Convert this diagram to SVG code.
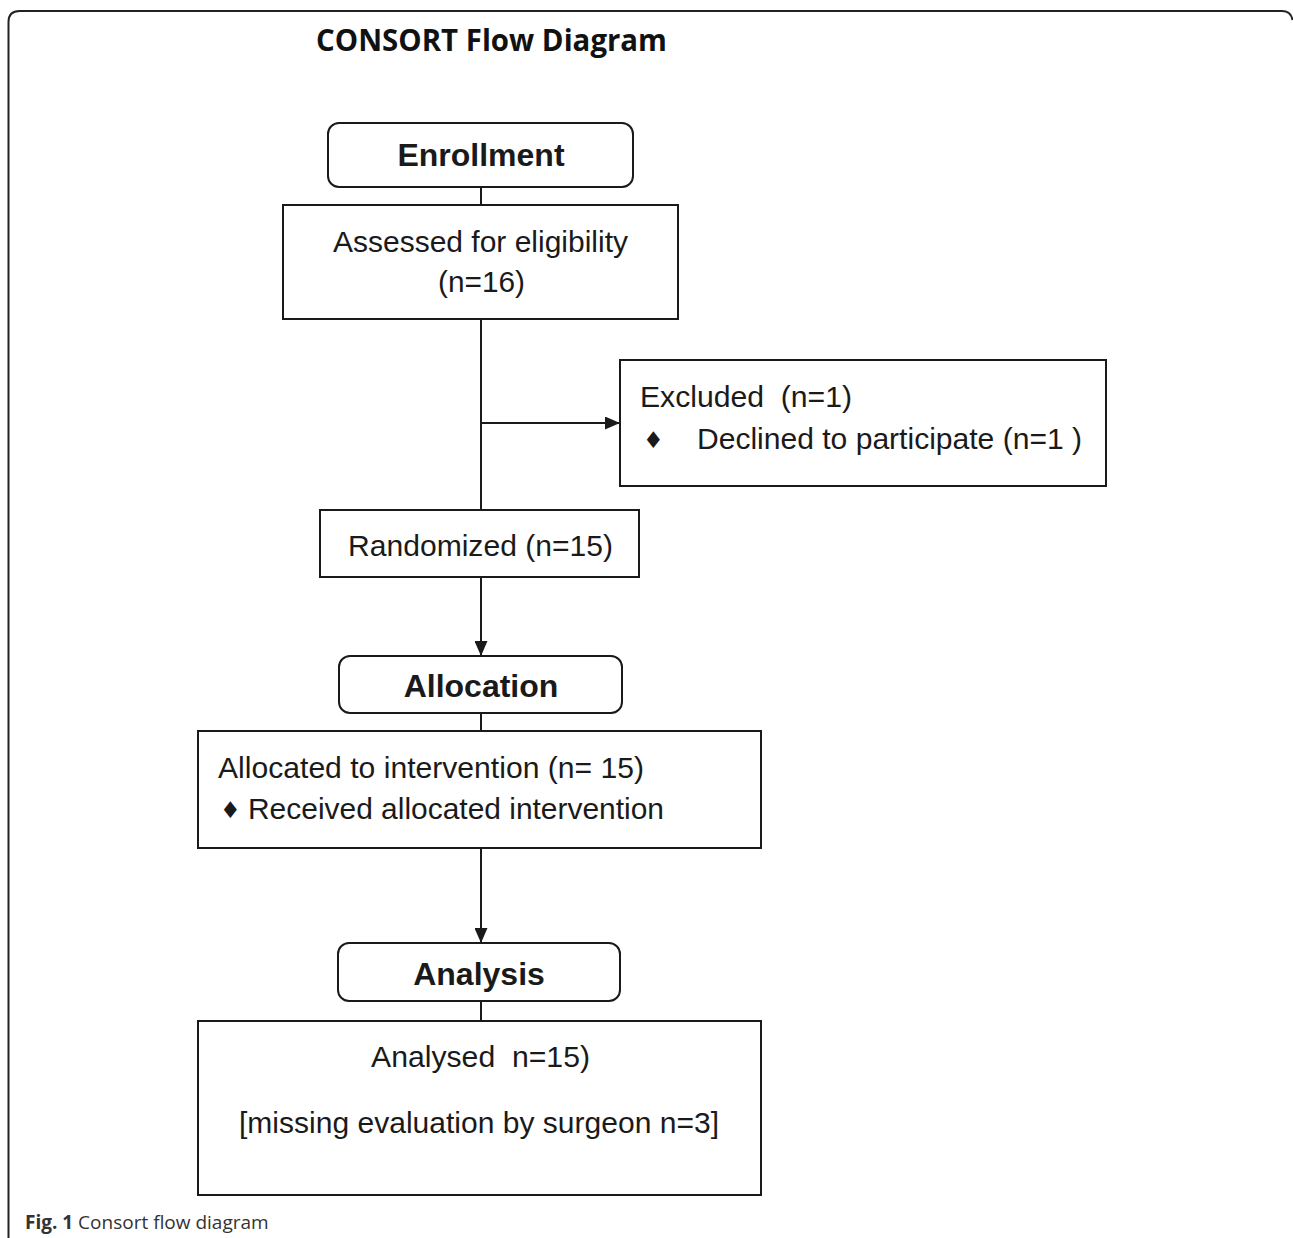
<svg xmlns="http://www.w3.org/2000/svg" width="1293" height="1238" viewBox="0 0 1293 1238">
<style>
.box{fill:#fff;stroke:#1a1a1a;stroke-width:2}
.t{font-family:"Liberation Sans",Arial,sans-serif;font-size:29px;fill:#1a1a1a;white-space:pre}
.h{font-family:"Liberation Sans",Arial,sans-serif;font-size:32px;font-weight:bold;fill:#1a1a1a}
.c{stroke:#1a1a1a;stroke-width:2;fill:none}
.d{font-family:"DejaVu Sans",sans-serif;font-size:23px;fill:#1a1a1a}
</style>
<defs>
<marker id="ah" markerWidth="15" markerHeight="13" refX="15" refY="6.5" orient="auto" markerUnits="userSpaceOnUse">
<path d="M0,0 L15,6.5 L0,13 Z" fill="#1a1a1a"/>
</marker>
</defs>
<rect width="1293" height="1238" fill="#fff"/>
<path d="M8.5,1238 L8.5,22 Q8.5,11 19.5,11 L1282,11 Q1291,11 1292.5,20" fill="none" stroke="#222" stroke-width="2"/>
<text x="316" y="51" textLength="351" lengthAdjust="spacingAndGlyphs" style="font-family:'Open Sans',sans-serif;font-size:31px;font-weight:bold;fill:#111">CONSORT Flow Diagram</text>

<g id="connectors">
<line class="c" x1="481" y1="187" x2="481" y2="205"/>
<line class="c" x1="481" y1="319" x2="481" y2="510"/>
<line class="c" x1="481" y1="423" x2="620" y2="423" marker-end="url(#ah)"/>
<line class="c" x1="481" y1="577" x2="481" y2="656" marker-end="url(#ah)"/>
<line class="c" x1="481" y1="713" x2="481" y2="731"/>
<line class="c" x1="481" y1="848" x2="481" y2="943" marker-end="url(#ah)"/>
<line class="c" x1="481" y1="1001" x2="481" y2="1021"/>
</g>

<g id="enrollment">
<rect class="box" x="328" y="123" width="305" height="64" rx="11"/>
<text class="h" x="481" y="166" text-anchor="middle">Enrollment</text>
</g>
<g id="assessed">
<rect class="box" x="283" y="205" width="395" height="114"/>
<text class="t" x="333" y="252" textLength="295" lengthAdjust="spacingAndGlyphs">Assessed for eligibility</text>
<text class="t" x="438" y="292" textLength="87" lengthAdjust="spacingAndGlyphs">(n=16)</text>
</g>
<g id="excluded">
<rect class="box" x="620" y="360" width="486" height="126"/>
<text class="t" x="640" y="407" textLength="212" lengthAdjust="spacingAndGlyphs">Excluded  (n=1)</text>
<text class="d" x="643" y="448">♦</text>
<text class="t" x="697" y="449" textLength="385" lengthAdjust="spacingAndGlyphs">Declined to participate (n=1 )</text>
</g>
<g id="randomized">
<rect class="box" x="320" y="510" width="319" height="67"/>
<text class="t" x="348" y="556" textLength="265" lengthAdjust="spacingAndGlyphs">Randomized (n=15)</text>
</g>
<g id="allocation">
<rect class="box" x="339" y="656" width="283" height="57" rx="11"/>
<text class="h" x="481" y="697" text-anchor="middle">Allocation</text>
</g>
<g id="allocated">
<rect class="box" x="198" y="731" width="563" height="117"/>
<text class="t" x="218" y="778" textLength="426" lengthAdjust="spacingAndGlyphs">Allocated to intervention (n= 15)</text>
<text class="d" x="220" y="818">♦</text>
<text class="t" x="248" y="819" textLength="416" lengthAdjust="spacingAndGlyphs">Received allocated intervention</text>
</g>
<g id="analysis">
<rect class="box" x="338" y="943" width="282" height="58" rx="11"/>
<text class="h" x="479" y="985" text-anchor="middle">Analysis</text>
</g>
<g id="analysed">
<rect class="box" x="198" y="1021" width="563" height="174"/>
<text class="t" x="371" y="1067" textLength="219" lengthAdjust="spacingAndGlyphs">Analysed  n=15)</text>
<text class="t" x="239" y="1133" textLength="480" lengthAdjust="spacingAndGlyphs">[missing evaluation by surgeon n=3]</text>
</g>
<text x="25" y="1229" style="font-family:'Open Sans',sans-serif;font-size:19px;fill:#333"><tspan font-weight="bold">Fig. 1</tspan> Consort flow diagram</text>
</svg>
